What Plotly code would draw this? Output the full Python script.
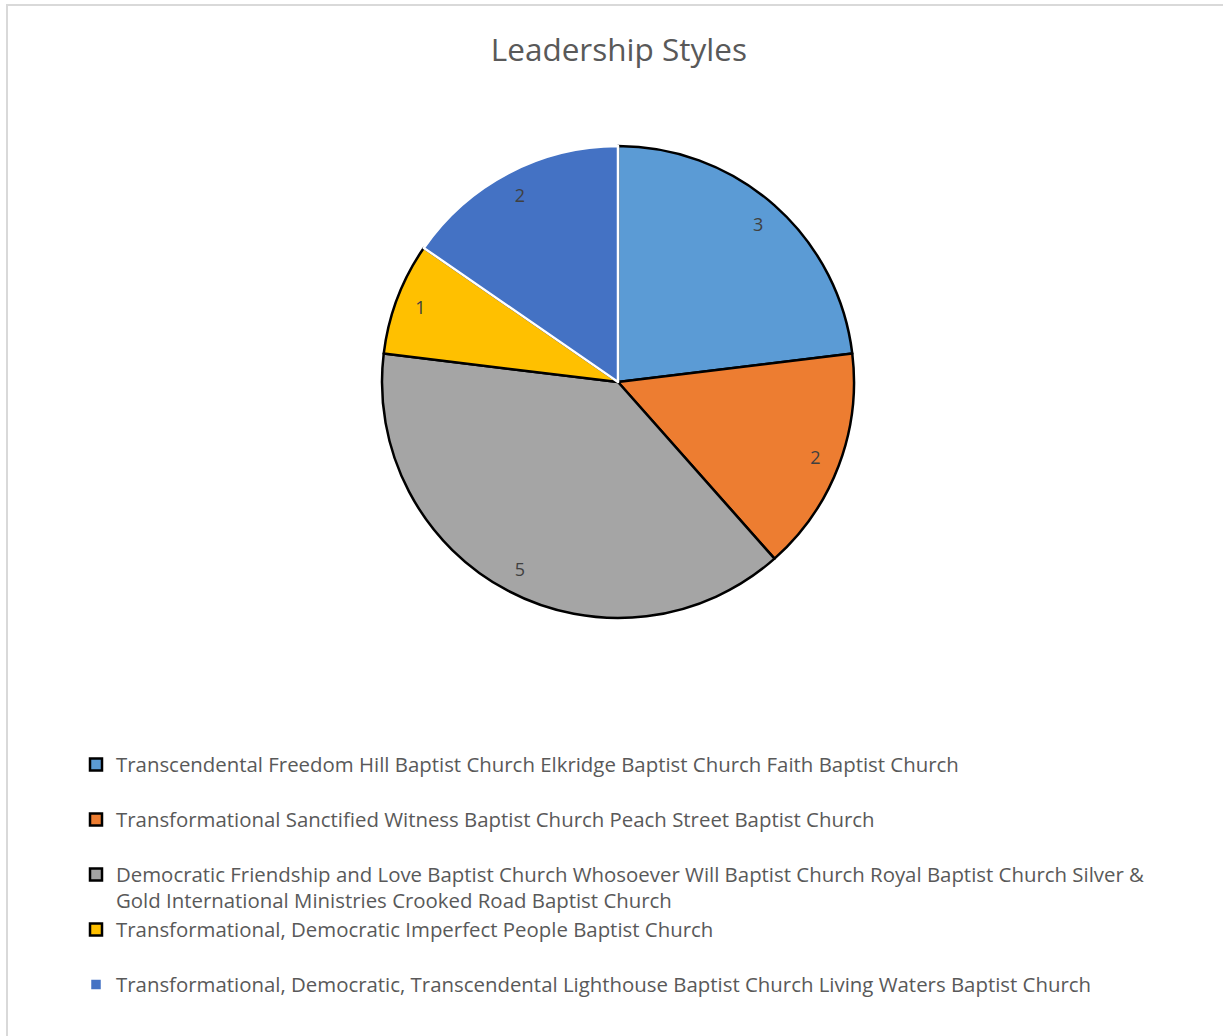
import plotly.graph_objects as go

W, H = 1223, 1036

labels = [
    "Transcendental Freedom Hill Baptist Church Elkridge Baptist Church Faith Baptist Church",
    "Transformational Sanctified Witness Baptist Church Peach Street Baptist Church",
    "Democratic Friendship and Love Baptist Church Whosoever Will Baptist Church Royal Baptist Church Silver &<br>Gold International Ministries Crooked Road Baptist Church",
    "Transformational, Democratic Imperfect People Baptist Church",
    "Transformational, Democratic, Transcendental Lighthouse Baptist Church Living Waters Baptist Church",
]
values = [3, 2, 5, 1, 2]
colors = ["#5B9BD5", "#ED7D31", "#A5A5A5", "#FFC000", "#4472C4"]
line_colors = ["#000000", "#000000", "#000000", "#000000", "#FFFFFF"]

# every legend entry gets the same (two-line) height, as in the original
def legend_text(lbl):
    body = lbl if "<br>" in lbl else lbl + "<br> "
    return '<span style="font-size:20.4px">' + body.replace("<br>", "</span><br><span style=\"font-size:20.4px\">") + "</span>"

legend_labels = [legend_text(l) for l in labels]

FONT = "Open Sans"
cx, cy, R = 618, 382, 236
dom_x = [(cx - R) / W, (cx + R) / W]
dom_y = [1 - (cy + R) / H, 1 - (cy - R) / H]

fig = go.Figure()
fig.add_trace(go.Pie(
    labels=legend_labels,
    values=values,
    sort=False,
    direction="clockwise",
    rotation=0,
    marker=dict(colors=colors, line=dict(color=line_colors, width=2.5)),
    textinfo="none",
    domain=dict(x=dom_x, y=dom_y),
    hoverinfo="value",
))
# value labels placed near the outer edge, using a transparent ring
fig.add_trace(go.Pie(
    labels=legend_labels,
    values=values,
    sort=False,
    direction="clockwise",
    rotation=0,
    hole=0.79,
    marker=dict(colors=["rgba(0,0,0,0)"] * len(values), line=dict(width=0)),
    text=[str(v) for v in values],
    textinfo="text",
    textposition="inside",
    insidetextorientation="horizontal",
    textfont=dict(family=FONT, size=18, color="#404040"),
    domain=dict(x=dom_x, y=dom_y),
    showlegend=False,
    hoverinfo="skip",
))

fig.update_layout(
    width=W, height=H,
    margin=dict(l=0, r=0, t=0, b=0),
    paper_bgcolor="white",
    plot_bgcolor="white",
    title=dict(text="Leadership Styles", x=0.506, xanchor="center", y=1 - 50 / H, yanchor="middle",
               font=dict(family=FONT, size=31.5, color="#595959")),
    legend=dict(
        x=76 / W, xanchor="left",
        y=1 - 745 / H, yanchor="top",
        valign="top",
        font=dict(family=FONT, size=20, color="#595959"),
        traceorder="normal",
        itemclick=False,
    ),
    shapes=[dict(type="rect", xref="paper", yref="paper",
                 x0=7 / W, x1=1.02, y0=-0.02, y1=1 - 5 / H,
                 line=dict(color="#D9D9D9", width=2), fillcolor="rgba(0,0,0,0)", layer="below")],
    font=dict(family=FONT),
)

fig.write_html("out.html")
